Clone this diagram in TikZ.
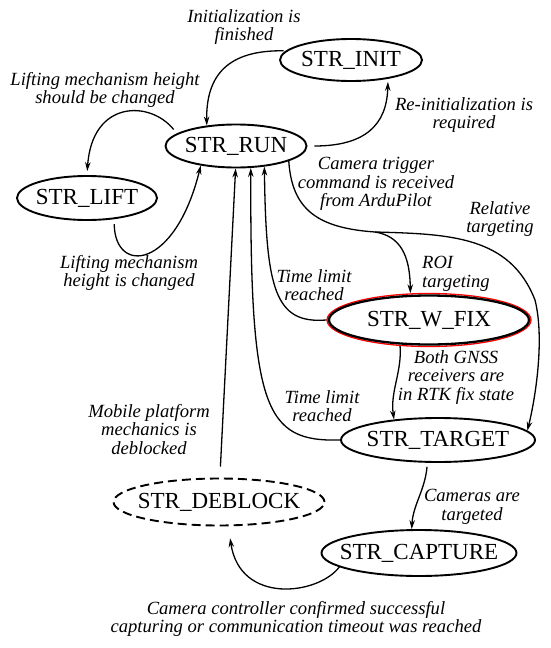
\documentclass[tikz,border=0pt]{standalone}
\usepackage{fontspec}
\setmainfont{Liberation Serif}
\usetikzlibrary{shapes.geometric,arrows.meta}
\begin{document}
\begin{tikzpicture}[x=1pt,y=-1pt,
  state/.style={ellipse,draw,line width=1.9pt,inner xsep=-20pt,inner ysep=-10pt,font=\fontsize{23}{25}\selectfont},
  lbl/.style={align=center,inner sep=0pt,anchor=north,font=\fontsize{18.6}{18.5}\selectfont\itshape},
  arr/.style={line width=1.3pt,-{Stealth[length=9pt,width=5.5pt]}}]
\useasboundingbox (0,0) rectangle (550,648);
% states
\node[state,minimum width=142pt,minimum height=42pt] (init) at (351,60) {STR\_INIT};
\node[state,minimum width=141pt,minimum height=43pt] (run) at (236,146) {STR\_RUN};
\node[state,minimum width=140pt,minimum height=44pt] (lift) at (87,198) {STR\_LIFT};
\node[ellipse,draw=red,line width=1.3pt,minimum width=204pt,minimum height=53pt,inner sep=0pt] (wfixring) at (429,320) {};
\node[state,line width=2.3pt,minimum width=200pt,minimum height=49pt] (wfix) at (429,320) {STR\_W\_FIX};
\node[state,minimum width=194pt,minimum height=44pt] (target) at (438,440) {STR\_TARGET};
\node[state,dash pattern=on 9pt off 5pt,minimum width=211pt,minimum height=47pt] (deblock) at (219,502) {STR\_DEBLOCK};
\node[state,minimum width=195pt,minimum height=46pt] (capture) at (419,553) {STR\_CAPTURE};
% labels
\node[lbl] (linit) at (244,9) {Initialization is\\finished};
\node[lbl] (lliftup) at (105,72) {Lifting mechanism height\\should be changed};
\node[lbl] (lreinit) at (464,97) {Re-initialization is\\required};
\node[lbl] (lcam) at (376,157) {Camera trigger\\command is received\\from ArduPilot};
\node[lbl] (lrel) at (500,201) {Relative\\targeting};
\node[lbl] (lliftdn) at (129,255) {Lifting mechanism\\height is changed};
\node[lbl,align=left,anchor=north west] (lroi) at (422,256) {ROI\\targeting};
\node[lbl] (ltla) at (314,269) {Time limit\\reached};
\node[lbl] (lgnss) at (456,350) {Both GNSS\\receivers are\\in RTK fix state};
\node[lbl] (ltlb) at (322,390) {Time limit\\reached};
\node[lbl] (lmob) at (149,404) {Mobile platform\\mechanics is\\deblocked};
\node[lbl] (lcams) at (472,489) {Cameras are\\targeted};
\node[lbl] (lcapt) at (296,601) {Camera controller confirmed successful\\capturing or communication timeout was reached};
% transitions
\draw[arr,shorten <=2pt] (init.172) .. controls (228,50) and (206,75) .. (run.145);
\draw[arr,shorten <=7pt,shorten >=3pt] (run.east) .. controls (365,146) and (387,125) .. (init.333);
\draw[arr,shorten <=5pt,shorten >=4pt] (run.168) .. controls (150,100) and (92,100) .. (lift.north);
\draw[arr,shorten <=5pt] (lift.322) .. controls (115,275) and (175,270) .. (run.209);
\draw[arr,shorten <=11pt] (deblock.88) -- (run.269);
\draw[arr] (wfixring.west) .. controls (275,324) and (266,290) .. (run.324);
\draw[arr] (target.west) .. controls (265,442) and (250,410) .. (run.304);
\coordinate (branch) at (375,232);
\draw[arr] (run.344) .. controls (292,210) and (318,228) .. (branch) .. controls (400,236) and (410,255) .. (wfixring.125);
\draw[arr] (branch) .. controls (450,234) and (510,236) .. (535,300) .. controls (545,340) and (535,400) .. (target.6);
\draw[arr] (wfixring.222) .. controls (402,372) and (390,392) .. (target.155);
\draw[arr,shorten <=4pt] (target.245) .. controls (425,490) and (413,505) .. (capture.107);
\draw[arr,shorten >=12pt] (capture.190) .. controls (318,595) and (240,605) .. (deblock.291);
\end{tikzpicture}
\end{document}
